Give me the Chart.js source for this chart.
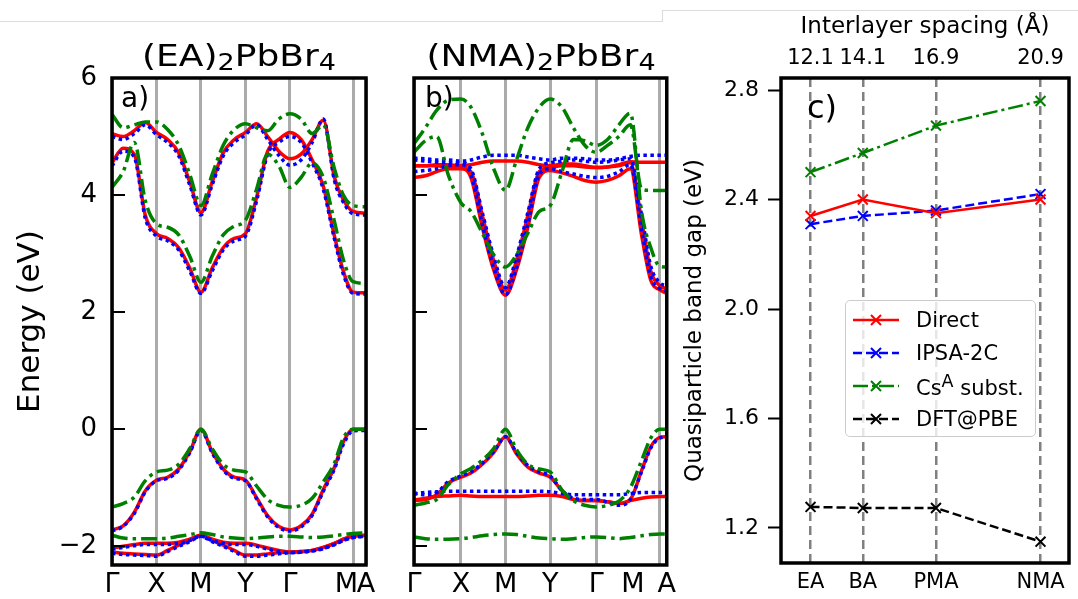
<!DOCTYPE html>
<html lang="en">
<head>
  <meta charset="UTF-8" />
  <title>Band structures and band gaps</title>
  <script src="https://cdn.jsdelivr.net/npm/chart.js"></script>
  <style>
    body { margin: 0; background: #fff; font-family: "DejaVu Sans", sans-serif; }
    #wrap { position: relative; width: 1078px; height: 599px; overflow: hidden; }
    canvas { position: absolute; top: 0; }
    .panel-tag { position: absolute; font-size: 28px; line-height: 28px; color: #000; }
    .ptitle {
      position: absolute; top: 41px; font-size: 30px; line-height: 30px; color: #000;
      text-align: center; white-space: nowrap; transform: scaleX(1.2); transform-origin: center;
    }
    .ptitle sub { font-size: 75%; vertical-align: -4px; line-height: 0; }
    .edge { position: absolute; background: #dcdcdc; }
    #legend {
      position: absolute; left: 845px; top: 300px; width: 191px; height: 137px;
      border: 1px solid #cccccc; border-radius: 5px; background: rgba(255,255,255,0.8);
      box-sizing: border-box; padding: 2px 0 0 7px;
    }
    #legend .row { height: 33px; display: flex; align-items: center; font-size: 21px; }
    #legend svg { margin-right: 17px; }
  </style>
</head>
<body>
<div id="wrap">
  <div class="edge" style="left:0;top:21px;width:663px;height:1px;"></div>
  <div class="edge" style="left:662px;top:10px;width:1px;height:12px;"></div>
  <div class="edge" style="left:662px;top:10px;width:416px;height:1px;"></div>

  <canvas id="chartA" width="380" height="599" style="left:0;"></canvas>
  <canvas id="chartB" width="300" height="599" style="left:380px;"></canvas>
  <canvas id="chartC" width="398" height="599" style="left:680px;"></canvas>

  <div class="ptitle" style="left:112px;width:254px;">(EA)<sub>2</sub>PbBr<sub>4</sub></div>
  <div class="ptitle" style="left:414px;width:254px;">(NMA)<sub>2</sub>PbBr<sub>4</sub></div>
  <div class="panel-tag" style="left:121px;top:84px;">a)</div>
  <div class="panel-tag" style="left:425px;top:84px;">b)</div>
  <div class="panel-tag" style="left:807px;top:91px;font-size:32px;line-height:32px;">c)</div>
  <div id="legend"></div>
</div>

<script>
  // k-path sampling and high-symmetry points
  const kPathA = [0, 0.25, 0.5, 0.75, 1, 1.25, 1.5, 1.75, 2, 2.25, 2.5, 2.75, 3, 3.25, 3.5, 3.75, 4, 4.25, 4.5, 4.75, 5, 5.2, 5.42, 5.71];
  const kPathB = [0, 0.25, 0.5, 0.75, 1.03, 1.25, 1.5, 1.75, 2.01, 2.25, 2.5, 2.75, 2.99, 3.25, 3.5, 3.75, 4, 4.25, 4.5, 4.75, 5, 5.2, 5.4, 5.55];
  const symPosA = [0, 1, 2, 3, 4, 5.42, 5.71];
  const symPosB = [0, 1.03, 2.01, 2.99, 4, 5.4, 5.55];
  // trailing spaces keep "M" clear of "A" where the two ticks nearly touch
  const symLabelsA = ['Γ', 'X', 'M', 'Y', 'Γ', 'M\u2002', 'A'];
  const symLabelsB = ['Γ', 'X', 'M', 'Y', 'Γ', 'M\u2003\u2003', 'A'];
  const energyTicks = [-2, 0, 2, 4, 6];

  // (EA)2PbBr4 bands (eV)
  const directA_c1 = [4.55, 4.8, 4.7, 3.65, 3.34, 3.26, 3.1, 2.75, 2.34, 2.75, 3.1, 3.26, 3.34, 3.96, 4.75, 4.95, 5.07, 4.95, 4.6, 4.15, 3.3, 2.7, 2.34, 2.33];
  const directA_c2 = [5.05, 5.0, 5.1, 5.24, 5.07, 4.95, 4.72, 4.22, 3.70, 4.22, 4.72, 4.95, 5.07, 5.22, 5.0, 4.75, 4.62, 4.7, 4.95, 5.28, 4.3, 3.92, 3.72, 3.69];
  const directA_v1 = [-1.72, -1.65, -1.42, -1.05, -0.87, -0.82, -0.68, -0.38, 0, -0.38, -0.68, -0.82, -0.87, -1.17, -1.48, -1.66, -1.72, -1.65, -1.45, -1.03, -0.65, -0.22, 0, 0];
  const directA_v2 = [-2.03, -2.0, -1.97, -1.95, -1.95, -1.95, -1.93, -1.88, -1.81, -1.88, -1.93, -1.95, -1.95, -1.98, -2.03, -2.07, -2.1, -2.09, -2.07, -2.02, -1.95, -1.88, -1.83, -1.81];
  const directA_v3 = [-2.1, -2.12, -2.13, -2.14, -2.15, -2.07, -1.98, -1.9, -1.81, -1.9, -1.98, -2.07, -2.15, -2.15, -2.13, -2.11, -2.1, -2.09, -2.07, -2.02, -1.95, -1.88, -1.83, -1.81];

  const ipsaA_c1 = [4.5, 4.75, 4.65, 3.6, 3.3, 3.22, 3.06, 2.7, 2.32, 2.7, 3.06, 3.22, 3.3, 3.9, 4.7, 4.9, 5.0, 4.9, 4.55, 4.1, 3.25, 2.65, 2.32, 2.31];
  const ipsaA_c2 = [5.0, 4.95, 5.05, 5.2, 5.03, 4.9, 4.67, 4.17, 3.66, 4.17, 4.67, 4.9, 5.03, 5.2, 4.95, 4.68, 4.51, 4.6, 4.9, 5.3, 4.25, 3.88, 3.68, 3.66];
  const ipsaA_v1 = [-1.74, -1.66, -1.44, -1.07, -0.88, -0.84, -0.7, -0.4, -0.02, -0.4, -0.7, -0.84, -0.88, -1.19, -1.5, -1.68, -1.74, -1.67, -1.47, -1.06, -0.68, -0.26, -0.03, -0.02];
  const ipsaA_v2 = [-2.05, -2.02, -1.99, -1.97, -1.97, -1.97, -1.95, -1.9, -1.83, -1.9, -1.95, -1.97, -1.97, -2.0, -2.05, -2.09, -2.11, -2.1, -2.08, -2.04, -1.97, -1.9, -1.85, -1.83];
  const ipsaA_v3 = [-2.12, -2.14, -2.15, -2.16, -2.17, -2.09, -2.0, -1.92, -1.83, -1.92, -2.0, -2.09, -2.17, -2.17, -2.15, -2.13, -2.11, -2.1, -2.08, -2.04, -1.97, -1.9, -1.85, -1.83];

  const csA_c1 = [4.13, 4.4, 4.9, 3.9, 3.51, 3.45, 3.32, 2.95, 2.51, 2.95, 3.32, 3.47, 3.57, 4.1, 4.7, 4.5, 4.13, 4.3, 4.55, 4.3, 3.55, 2.9, 2.52, 2.49];
  const csA_c2 = [5.38, 5.15, 5.2, 5.25, 5.25, 5.12, 4.85, 4.35, 3.82, 4.35, 4.85, 5.12, 5.22, 5.15, 5.1, 5.3, 5.39, 5.3, 5.05, 5.2, 4.45, 4.0, 3.82, 3.8];
  const csA_v1 = [-1.33, -1.27, -1.16, -0.88, -0.73, -0.7, -0.6, -0.33, 0, -0.33, -0.6, -0.7, -0.73, -0.97, -1.2, -1.3, -1.33, -1.3, -1.18, -0.9, -0.58, -0.15, 0, 0];
  const csA_v2 = [-1.81, -1.86, -1.87, -1.87, -1.87, -1.86, -1.83, -1.8, -1.77, -1.8, -1.84, -1.86, -1.87, -1.86, -1.84, -1.83, -1.83, -1.84, -1.85, -1.84, -1.82, -1.8, -1.78, -1.77];

  // (NMA)2PbBr4 bands (eV)
  const directB_c1 = [4.5, 4.5, 4.52, 4.52, 4.5, 4.52, 4.56, 4.58, 4.58, 4.58, 4.56, 4.52, 4.5, 4.53, 4.53, 4.5, 4.47, 4.48, 4.52, 4.57, 4.56, 4.56, 4.56, 4.56];
  const directB_c2 = [4.3, 4.33, 4.4, 4.45, 4.45, 4.3, 3.45, 2.72, 2.29, 2.72, 3.45, 4.3, 4.42, 4.38, 4.32, 4.25, 4.22, 4.25, 4.33, 4.45, 3.3, 2.54, 2.38, 2.32];
  const directB_c3 = [4.5, 4.5, 4.5, 4.48, 4.47, 4.4, 3.65, 2.88, 2.38, 2.88, 3.65, 4.4, 4.47, 4.5, 4.5, 4.48, 4.47, 4.48, 4.5, 4.55, 3.55, 2.7, 2.45, 2.4];
  const directB_v1 = [-1.22, -1.2, -1.12, -0.92, -0.82, -0.75, -0.6, -0.4, -0.13, -0.42, -0.65, -0.75, -0.82, -1.05, -1.2, -1.22, -1.22, -1.24, -1.27, -1.2, -0.7, -0.3, -0.14, -0.13];
  const directB_v2 = [-1.21, -1.18, -1.15, -1.14, -1.13, -1.14, -1.15, -1.15, -1.15, -1.15, -1.14, -1.13, -1.13, -1.15, -1.2, -1.22, -1.22, -1.24, -1.27, -1.22, -1.18, -1.16, -1.15, -1.15];

  const ipsaB_c1 = [4.63, 4.62, 4.6, 4.6, 4.58, 4.6, 4.65, 4.68, 4.68, 4.68, 4.65, 4.62, 4.6, 4.63, 4.63, 4.62, 4.6, 4.6, 4.62, 4.66, 4.68, 4.68, 4.68, 4.68];
  const ipsaB_c2 = [4.4, 4.42, 4.45, 4.5, 4.52, 4.35, 3.5, 2.76, 2.3, 2.76, 3.5, 4.35, 4.45, 4.4, 4.36, 4.32, 4.3, 4.32, 4.4, 4.52, 3.4, 2.6, 2.4, 2.36];
  const ipsaB_c3 = [4.6, 4.58, 4.56, 4.55, 4.55, 4.45, 3.7, 2.95, 2.42, 2.95, 3.7, 4.45, 4.55, 4.58, 4.6, 4.58, 4.56, 4.57, 4.6, 4.62, 3.65, 2.78, 2.5, 2.45];
  const ipsaB_v1 = [-1.1, -1.12, -1.08, -0.9, -0.8, -0.73, -0.58, -0.38, -0.13, -0.4, -0.62, -0.73, -0.8, -1.05, -1.18, -1.2, -1.2, -1.25, -1.3, -1.2, -0.72, -0.32, -0.15, -0.13];
  const ipsaB_v2 = [-1.1, -1.08, -1.07, -1.06, -1.06, -1.06, -1.06, -1.06, -1.06, -1.06, -1.06, -1.06, -1.07, -1.1, -1.12, -1.12, -1.12, -1.12, -1.12, -1.1, -1.08, -1.08, -1.08, -1.08];

  const csB_c1 = [4.73, 4.93, 5.0, 4.35, 3.87, 3.72, 3.35, 2.98, 2.77, 2.98, 3.35, 3.72, 3.82, 4.4, 4.95, 4.93, 4.85, 4.95, 5.2, 5.4, 3.7, 3.1, 2.78, 2.77];
  const csB_c2 = [4.88, 5.15, 5.45, 5.62, 5.64, 5.5, 5.05, 4.45, 4.08, 4.6, 5.15, 5.5, 5.64, 5.5, 5.15, 4.85, 4.73, 4.85, 5.0, 5.2, 4.1, 4.08, 4.08, 4.08];
  const csB_v1 = [-1.30, -1.26, -1.2, -0.95, -0.76, -0.67, -0.53, -0.33, 0, -0.35, -0.6, -0.68, -0.73, -1.04, -1.22, -1.3, -1.33, -1.3, -1.23, -1.0, -0.53, -0.15, 0, 0];
  const csB_v2 = [-1.84, -1.87, -1.88, -1.88, -1.87, -1.85, -1.82, -1.8, -1.79, -1.8, -1.83, -1.86, -1.87, -1.88, -1.87, -1.85, -1.84, -1.85, -1.87, -1.85, -1.82, -1.8, -1.79, -1.79];

  // band gap vs interlayer spacing
  const compounds = ['EA', 'BA', 'PMA', 'NMA'];
  const spacing = [12.1, 14.1, 16.9, 20.9];
  const gapDirect = [2.34, 2.40, 2.35, 2.40];
  const gapIpsa = [2.31, 2.34, 2.36, 2.42];
  const gapCs = [2.50, 2.57, 2.67, 2.76];
  const gapDft = [1.277, 1.273, 1.273, 1.15];
  const gapTicks = [1.2, 1.6, 2.0, 2.4, 2.8];

  Chart.defaults.font.family = '"DejaVu Sans", sans-serif';
  Chart.defaults.color = '#000';
  Chart.defaults.animation = false;

  const RED = '#ff0000', BLUE = '#0000ff', GREEN = '#008000';

  const framePlugin = {
    id: 'frame',
    afterDraw(chart) {
      const { ctx, chartArea: a } = chart;
      ctx.save();
      ctx.strokeStyle = '#000';
      ctx.lineWidth = 3.5;
      ctx.strokeRect(a.left, a.top, a.right - a.left, a.bottom - a.top);
      ctx.restore();
    }
  };

  // tick marks pointing into the plot (band panels)
  const inTicksPlugin = {
    id: 'inTicks',
    afterDraw(chart) {
      const { ctx, chartArea: a } = chart;
      const y = chart.scales.y;
      ctx.save();
      ctx.strokeStyle = '#000';
      ctx.lineWidth = 2;
      y.ticks.forEach(t => {
        const py = Math.round(y.getPixelForValue(t.value));
        ctx.beginPath();
        ctx.moveTo(a.left, py);
        ctx.lineTo(a.left + 13, py);
        ctx.stroke();
      });
      ctx.restore();
    }
  };

  function bandSets(k, bands, color, dash, order) {
    return bands.map(b => ({
      data: k.map((x, i) => ({ x: x, y: b[i] })),
      borderColor: color,
      borderWidth: 3.5,
      borderDash: dash,
      pointRadius: 0,
      cubicInterpolationMode: 'monotone',
      order: order
    }));
  }

  function bandChart(id, k, sym, labels, direct, ipsa, cs, showY, leftW, rightPad) {
    return new Chart(document.getElementById(id), {
      type: 'line',
      data: {
        datasets: [
          ...bandSets(k, direct, RED, [], 3),
          ...bandSets(k, ipsa, BLUE, [3.5, 3.5], 2),
          ...bandSets(k, cs, GREEN, [16, 5, 3.5, 5], 1)
        ]
      },
      options: {
        responsive: false,
        layout: { padding: { left: 0, right: rightPad, top: 78, bottom: 0 } },
        plugins: {
          legend: { display: false },
          tooltip: { enabled: false }
        },
        scales: {
          x: {
            type: 'linear',
            min: 0,
            max: sym[sym.length - 1],
            afterBuildTicks: s => { s.ticks = sym.map(v => ({ value: v })); },
            afterFit: s => { s.height = 34; },
            ticks: {
              autoSkip: false,
              maxRotation: 0,
              padding: 4,
              font: { size: 27 },
              callback: (v, i) => labels[i]
            },
            grid: { color: '#ababab', lineWidth: 3, drawTicks: false },
            border: { display: false }
          },
          y: {
            min: -2.32,
            max: 6,
            afterBuildTicks: s => { s.ticks = energyTicks.map(v => ({ value: v })); },
            afterFit: s => { s.width = leftW; },
            ticks: {
              display: showY,
              padding: 15,
              font: { size: 26 },
              callback: v => (v < 0 ? '\u2212' + Math.abs(v) : String(v))
            },
            grid: { display: false, drawTicks: false },
            border: { display: false },
            title: {
              display: showY,
              text: 'Energy (eV)',
              font: { size: 31 },
              padding: { top: 12, bottom: 0 }
            }
          }
        }
      },
      plugins: [framePlugin, inTicksPlugin]
    });
  }

  bandChart('chartA', kPathA, symPosA, symLabelsA,
    [directA_c1, directA_c2, directA_v1, directA_v2, directA_v3],
    [ipsaA_c1, ipsaA_c2, ipsaA_v1, ipsaA_v2, ipsaA_v3],
    [csA_c1, csA_c2, csA_v1, csA_v2], true, 112, 14);

  bandChart('chartB', kPathB, symPosB, symLabelsB,
    [directB_c1, directB_c2, directB_c3, directB_v1, directB_v2],
    [ipsaB_c1, ipsaB_c2, ipsaB_c3, ipsaB_v1, ipsaB_v2],
    [csB_c1, csB_c2, csB_v1, csB_v2], false, 34, 12);

  function gapSet(label, values, color, dash) {
    return {
      label: label,
      data: spacing.map((x, i) => ({ x: x, y: values[i] })),
      borderColor: color,
      backgroundColor: color,
      borderWidth: 2.5,
      borderDash: dash,
      pointStyle: 'crossRot',
      pointRadius: 7,
      pointBorderWidth: 2,
      pointBorderColor: color,
      tension: 0
    };
  }

  const chartC = new Chart(document.getElementById('chartC'), {
    type: 'line',
    data: {
      datasets: [
        gapSet('Direct', gapDirect, RED, []),
        gapSet('IPSA-2C', gapIpsa, BLUE, [9, 4]),
        gapSet('Cs<sup>A</sup> subst.', gapCs, GREEN, [15, 4, 3, 4]),
        gapSet('DFT@PBE', gapDft, '#000000', [9, 4])
      ]
    },
    options: {
      responsive: false,
      layout: { padding: { left: 0, right: 3, top: 0, bottom: 0 } },
      plugins: { legend: { display: false }, tooltip: { enabled: false } },
      scales: {
        x: {
          type: 'linear',
          min: 10.97,
          max: 21.99,
          afterBuildTicks: s => { s.ticks = spacing.map(v => ({ value: v })); },
          afterFit: s => { s.height = 36; },
          ticks: {
            autoSkip: false,
            maxRotation: 0,
            padding: 7,
            font: { size: 21 },
            callback: (v, i) => compounds[i]
          },
          grid: { color: '#808080', lineWidth: 2.5, drawTicks: false },
          border: { display: false, dash: [9, 5] }
        },
        x2: {
          type: 'linear',
          axis: 'x',
          position: 'top',
          min: 10.97,
          max: 21.99,
          afterBuildTicks: s => { s.ticks = spacing.map(v => ({ value: v })); },
          afterFit: s => { s.height = 78; },
          ticks: {
            autoSkip: false,
            maxRotation: 0,
            padding: 7,
            font: { size: 21 },
            callback: (v, i) => spacing[i].toFixed(1)
          },
          grid: { display: false, drawTicks: false },
          border: { display: false },
          title: {
            display: true,
            text: 'Interlayer spacing (Å)',
            font: { size: 23 },
            padding: { top: 13, bottom: 0 }
          }
        },
        y: {
          min: 1.072,
          max: 2.844,
          afterBuildTicks: s => { s.ticks = gapTicks.map(v => ({ value: v })); },
          afterFit: s => { s.width = 101; },
          ticks: {
            padding: 9,
            font: { size: 22 },
            callback: v => v.toFixed(1)
          },
          grid: { drawOnChartArea: false, drawTicks: true, tickLength: 13, tickWidth: 2, tickColor: '#000' },
          border: { display: false },
          title: {
            display: true,
            text: 'Quasiparticle band gap (eV)',
            font: { size: 23 },
            padding: { top: 1, bottom: 0 }
          }
        }
      }
    },
    plugins: [framePlugin]
  });

  // legend built from the datasets
  const legend = document.getElementById('legend');
  chartC.data.datasets.forEach(ds => {
    const row = document.createElement('div');
    row.className = 'row';
    const dash = ds.borderDash.length ? ds.borderDash.join(' ') : 'none';
    row.innerHTML =
      '<svg width="46" height="20">' +
      '<line x1="0" y1="10" x2="46" y2="10" stroke="' + ds.borderColor + '" stroke-width="2.5" stroke-dasharray="' + dash + '"/>' +
      '<path d="M18 5 L28 15 M28 5 L18 15" stroke="' + ds.borderColor + '" stroke-width="2"/>' +
      '</svg><span>' + ds.label + '</span>';
    legend.appendChild(row);
  });
</script>
</body>
</html>
